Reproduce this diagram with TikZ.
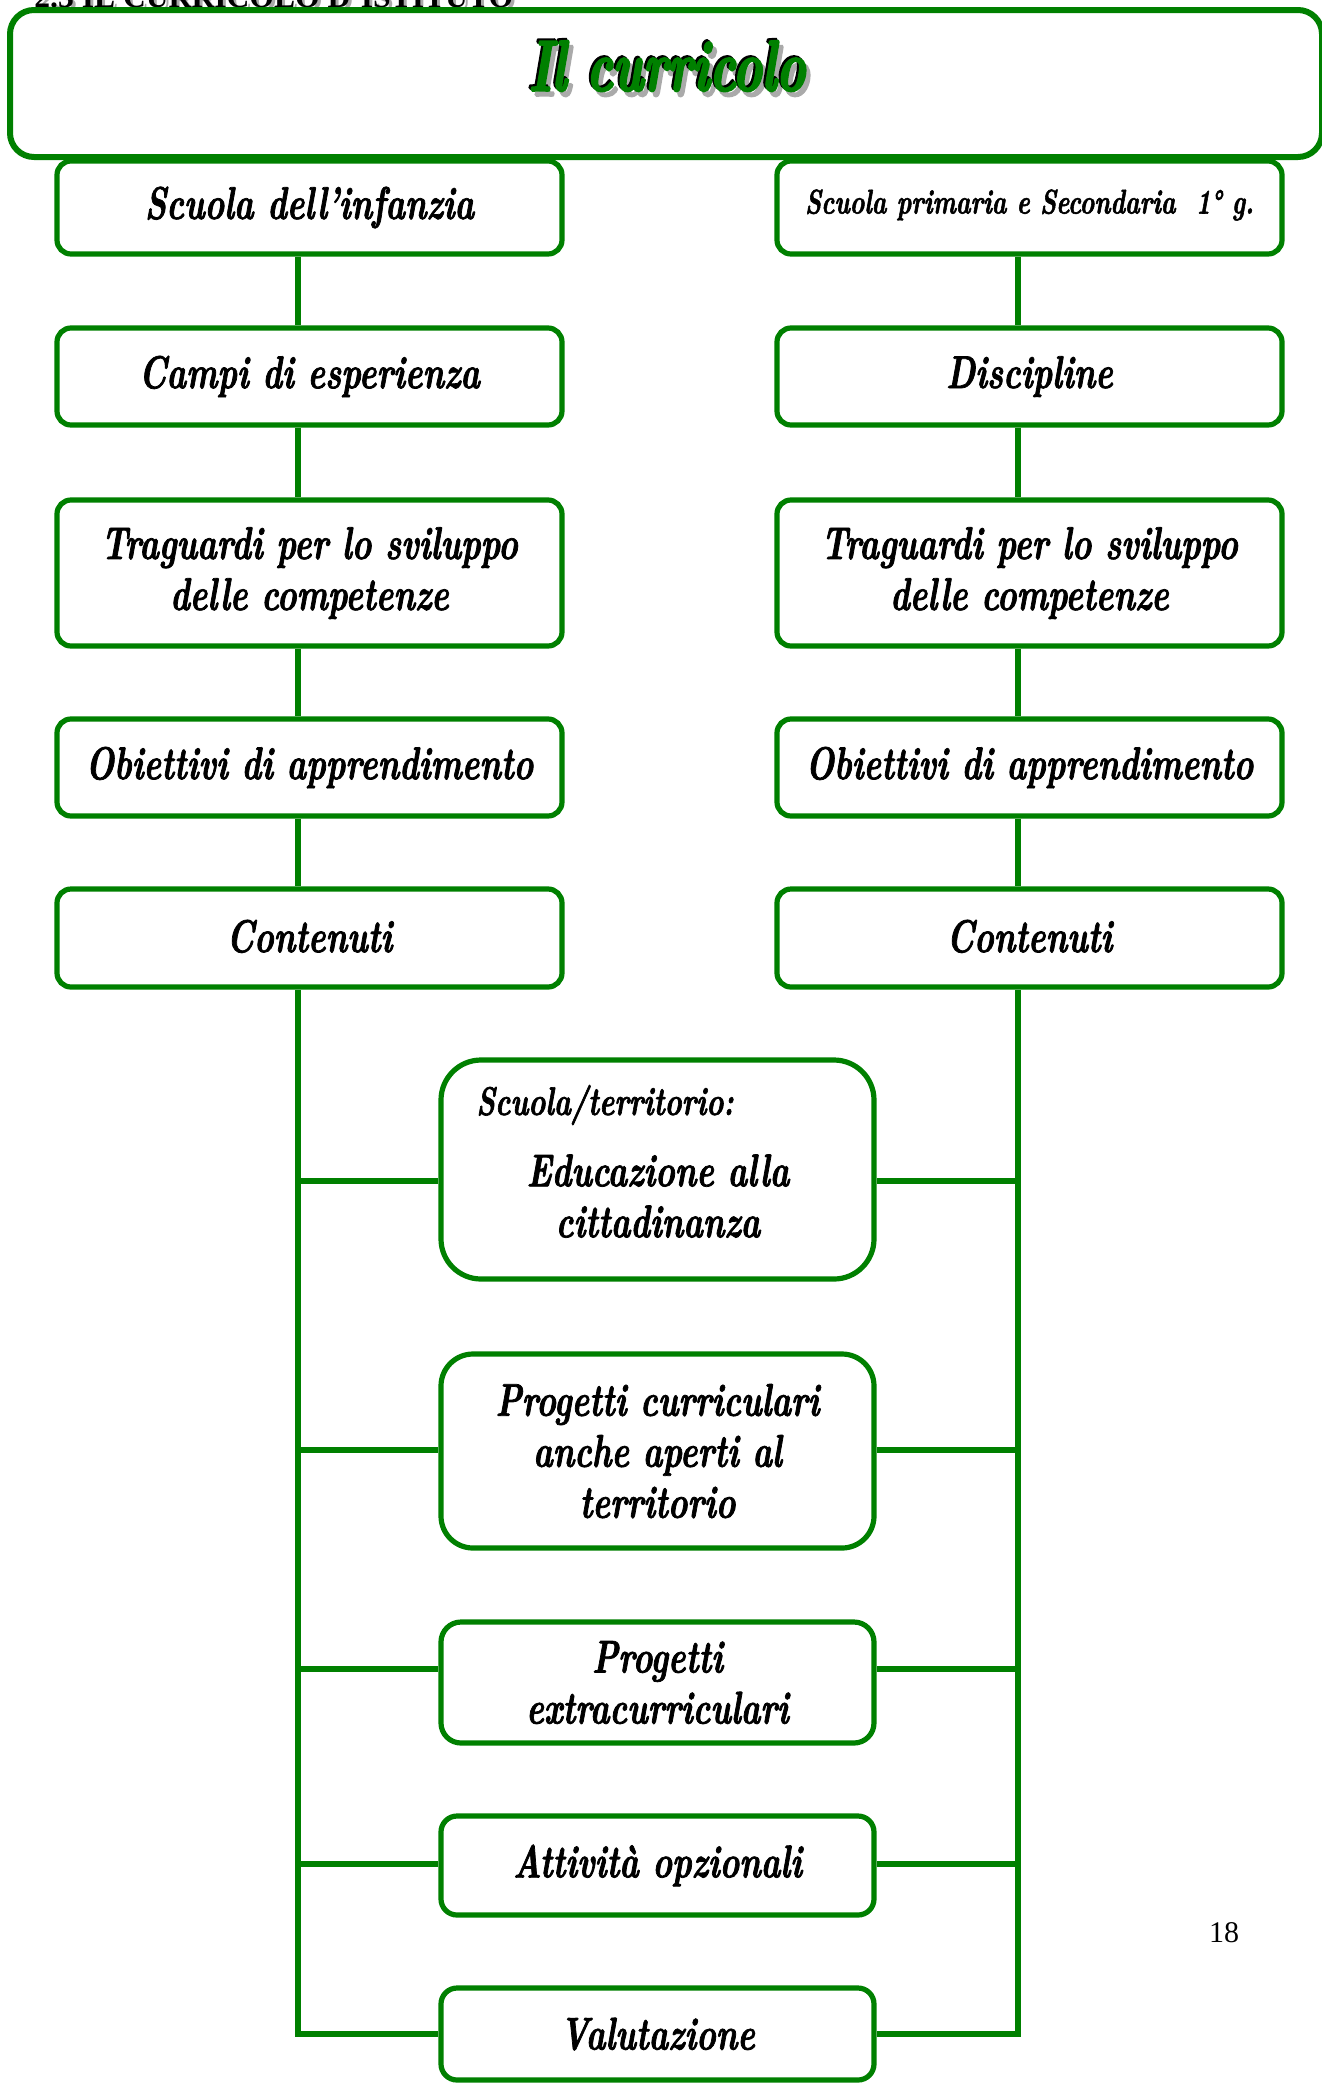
\documentclass[tikz,border=0pt]{standalone}
\usepackage{fontspec}
\newfontfamily\cursiva{lmroman10-bolditalic}[Extension=.otf,FakeStretch=0.72,FakeBold=1.6]
\newfontfamily\cursivatit{lmroman10-bolditalic}[Extension=.otf,FakeStretch=0.68,FakeBold=3]
\newfontfamily\pagina{Liberation Serif}
\definecolor{verde}{RGB}{0,128,0}
\definecolor{ombra}{RGB}{170,170,170}
\begin{document}
\begin{tikzpicture}[x=0.5pt,y=-0.5pt,
  box/.style={draw=verde, line width=2.6pt, fill=white, inner sep=0pt, align=center,
    font=\cursiva\fontsize{23}{25.5}\selectfont, rounded corners=7pt},
  lbl/.style={inner sep=0pt, align=center, font=\cursiva\fontsize{23}{25.5}\selectfont},
  conn/.style={draw=verde, line width=2.6pt},
  titolo/.style={inner sep=0pt, font=\cursivatit\fontsize{36}{40}\selectfont}]

\clip (0,0) rectangle (1322,2083);

% heading of the page (cut by the top edge)
\node[anchor=base west, inner sep=0pt, text=ombra, font=\pagina\bfseries\fontsize{15.8}{18}\selectfont] (hdsh) at (37,10) {2.3 IL CURRICOLO D’ISTITUTO};
\node[anchor=base west, inner sep=0pt, font=\pagina\bfseries\fontsize{15.8}{18}\selectfont] (hd) at (34,7) {2.3 IL CURRICOLO D’ISTITUTO};

% title frame
\node[box, rounded corners=12pt, line width=3pt, minimum width=656pt, minimum height=73.5pt] (top) at (666,83.5) {};
\node[titolo, text=ombra] (tsh) at (671,71) {Il curricolo};
\node[titolo, text=black] (tbk) at (665,64) {Il curricolo};
\node[titolo, text=verde] (tit) at (667,66) {Il curricolo};

% left column: scuola dell'infanzia
\node[box, minimum width=252.5pt, minimum height=46.5pt] (l1) at (309.5,207.5) {\raisebox{2pt}{Scuola dell’infanzia}};
\node[box, minimum width=252.5pt, minimum height=48.5pt] (l2) at (309.5,376.5) {\raisebox{2pt}{Campi di esperienza}};
\node[box, minimum width=252.5pt, minimum height=73pt] (l3) at (309.5,573) {Traguardi per lo sviluppo\\delle competenze};
\node[box, minimum width=252.5pt, minimum height=48.5pt] (l4) at (309.5,767.5) {Obiettivi di apprendimento};
\node[box, minimum width=252.5pt, minimum height=49pt] (l5) at (309.5,938) {\raisebox{2pt}{Contenuti}};

% right column: primaria e secondaria
\node[box, minimum width=252.5pt, minimum height=46.5pt] (r1) at (1029.5,207.5) {\fontsize{17.2}{20}\selectfont\raisebox{6pt}{Scuola primaria e Secondaria\ \ 1° g.}};
\node[box, minimum width=252.5pt, minimum height=48.5pt] (r2) at (1029.5,376.5) {\raisebox{3pt}{Discipline}};
\node[box, minimum width=252.5pt, minimum height=73pt] (r3) at (1029.5,573) {Traguardi per lo sviluppo\\delle competenze};
\node[box, minimum width=252.5pt, minimum height=48.5pt] (r4) at (1029.5,767.5) {Obiettivi di apprendimento};
\node[box, minimum width=252.5pt, minimum height=49pt] (r5) at (1029.5,938) {\raisebox{2pt}{Contenuti}};

% shared boxes in the middle
\node[box, rounded corners=20pt, minimum width=216.5pt, minimum height=109.5pt] (m1) at (657.5,1169.5) {};
\node[lbl, anchor=west, font=\cursiva\fontsize{20}{22}\selectfont] (m1a) at (476,1105) {Scuola/territorio:};
\node[lbl] (m1b) at (658,1196) {Educazione alla\\cittadinanza};
\node[box, rounded corners=16pt, minimum width=216.5pt, minimum height=97pt] (m2) at (657.5,1451) {Progetti curriculari\\anche aperti al\\territorio};
\node[box, rounded corners=10pt, minimum width=216.5pt, minimum height=60.5pt] (m3) at (657.5,1682.5) {Progetti\\extracurriculari};
\node[box, rounded corners=8pt, minimum width=216.5pt, minimum height=49.5pt] (m4) at (657.5,1865.5) {Attività opzionali};
\node[box, rounded corners=8pt, minimum width=216.5pt, minimum height=46pt] (m5) at (657.5,2034) {Valutazione};

% trunk lines
\coordinate (tl) at (298,0);
\coordinate (tr) at (1018,0);
\foreach \a/\b in {l1/l2,l2/l3,l3/l4,l4/l5} \draw[conn] (\a.south -| tl) -- (\b.north -| tl);
\foreach \a/\b in {r1/r2,r2/r3,r3/r4,r4/r5} \draw[conn] (\a.south -| tr) -- (\b.north -| tr);

\foreach \i/\y in {1/1181,2/1450,3/1669,4/1864,5/2034} {
  \coordinate (lk\i) at (298,\y);
  \coordinate (rk\i) at (1018,\y);
}
\draw[conn] (l5.south -| tl) -- (lk5) -- (lk5 -| m5.west);
\draw[conn] (r5.south -| tr) -- (rk5) -- (rk5 -| m5.east);
\foreach \i/\m in {1/m1,2/m2,3/m3,4/m4} {
  \draw[conn] (lk\i) -- (lk\i -| \m.west);
  \draw[conn] (rk\i) -- (rk\i -| \m.east);
}

% page number
\node[inner sep=0pt, font=\pagina\fontsize{15}{18}\selectfont] (pg) at (1224,1933) {18};
\end{tikzpicture}
\end{document}
